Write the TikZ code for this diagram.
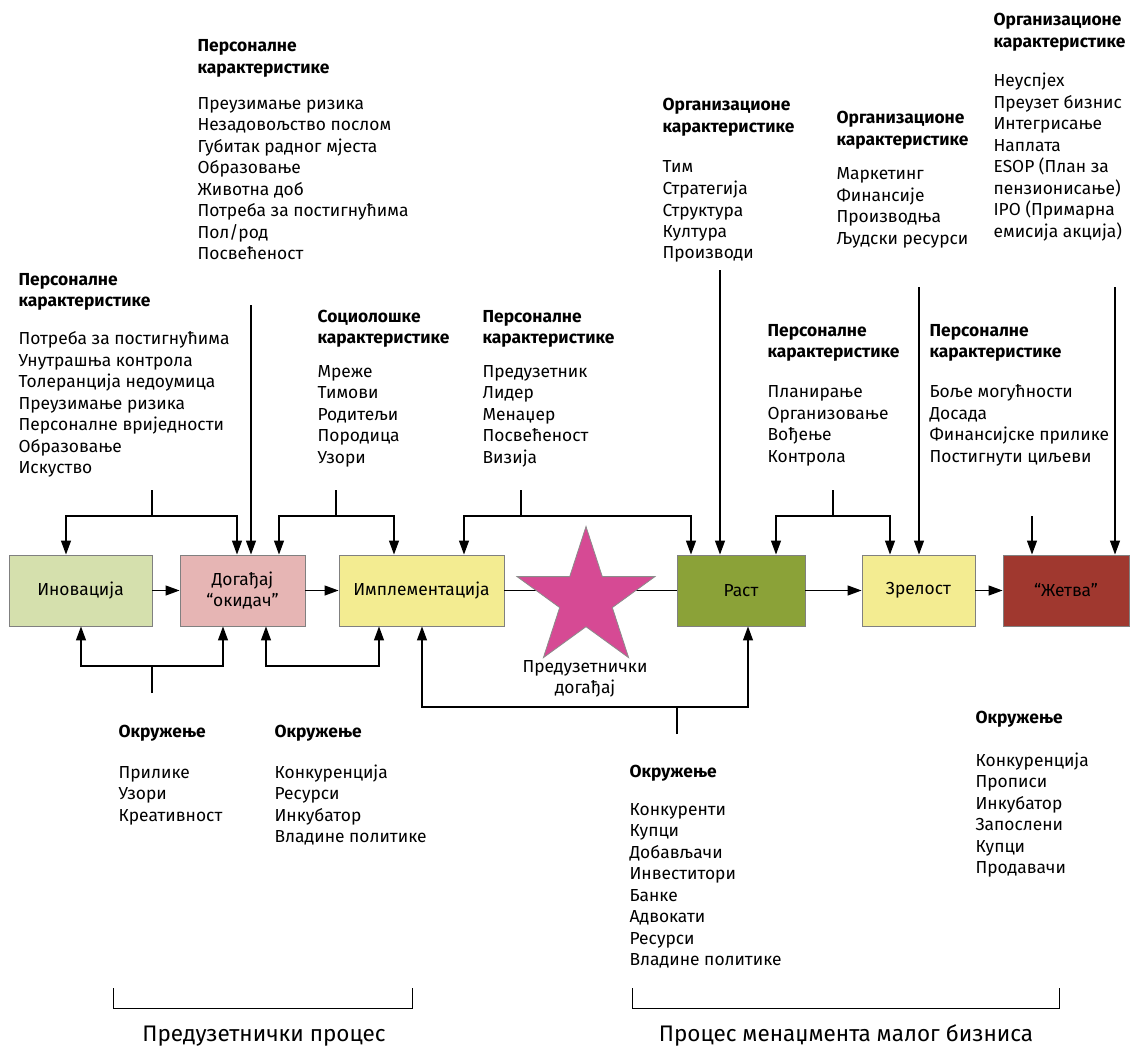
\documentclass[tikz,border=0pt]{standalone}
\usepackage{fontspec}
\setmainfont{Fira Sans}
\usetikzlibrary{arrows.meta,shapes.geometric}
\definecolor{cInov}{RGB}{213,224,173}
\definecolor{cDog}{RGB}{230,181,180}
\definecolor{cYel}{RGB}{243,236,145}
\definecolor{cRast}{RGB}{139,162,56}
\definecolor{cZet}{RGB}{160,56,47}
\definecolor{cStar}{RGB}{214,74,148}
\newcommand\bodyfs{\fontsize{17.4}{21.5}\selectfont}
\newcommand\titlefs{\fontsize{22.5}{26}\selectfont}
\newcommand\blk[1]{\begin{tabular}[t]{@{}l@{}}#1\end{tabular}}
\begin{document}
\begin{tikzpicture}[x=1pt,y=-1pt,line width=1.2pt,font=\bodyfs,
  box/.style={draw=black!50,line width=0.9pt,minimum height=71pt,inner sep=0pt,align=center},
  arr/.style={-{Triangle[length=14pt,width=10pt]}},
  both/.style={{Triangle[length=14pt,width=10pt]}-{Triangle[length=14pt,width=10pt]}},
  txt/.style={anchor=base west,inner sep=0pt},
  ttl/.style={anchor=base,inner sep=0pt,font=\titlefs}]
\useasboundingbox (0,0) rectangle (1132,1046);

% boxes
\node[box,fill=cInov,minimum width=143pt] (inov) at (80.5,590.5) {Иновација};
\node[box,fill=cDog,minimum width=125pt] (dog) at (242.5,590.5) {Догађај\\“окидач”};
\node[box,fill=cYel,minimum width=165pt] (impl) at (421.5,590.5) {Имплементација};
\node[box,fill=cRast,minimum width=128pt] (rast) at (741,590.5) {Раст};
\node[box,fill=cYel,minimum width=113pt] (zrel) at (918.5,590.5) {Зрелост};
\node[box,fill=cZet,minimum width=126pt] (zet) at (1066,590.5) {“Жетва”};

% main flow
\draw[arr] (inov) -- (dog);
\draw[arr] (dog) -- (impl);
\draw (impl) -- (rast);
\draw[arr] (rast) -- (zrel);
\draw[arr] (zrel) -- (zet);

\node[star,star points=5,star point ratio=2.618,minimum size=145pt,inner sep=0pt,
  fill=cStar,draw=black!45,line width=0.8pt] (star) at (586,599) {};
\node[anchor=base,inner sep=0pt] (starlbl) at (585,672)
  {\begin{tabular}[t]{@{}c@{}}Предузетнички\\догађај\end{tabular}};

% top connectors
\coordinate (s1) at (152,490); \coordinate (j1) at (152,516);
\draw (s1) -- (j1);
\draw[both] ([xshift=-14.5pt]inov.north) |- (j1) -| ([xshift=-5.5pt]dog.north);
\coordinate (s2) at (251,305);
\draw[arr] (s2) -- ([xshift=8.5pt]dog.north);
\coordinate (s3) at (336,490); \coordinate (j3) at (336,516);
\draw (s3) -- (j3);
\draw[both] ([xshift=36.5pt]dog.north) |- (j3) -| ([xshift=-27.5pt]impl.north);
\coordinate (s4) at (521,490); \coordinate (j4) at (521,516);
\draw (s4) -- (j4);
\draw[both] ([xshift=42.5pt]impl.north) |- (j4) -| ([xshift=-50pt]rast.north);
\coordinate (s5) at (720,270);
\draw[arr] (s5) -- ([xshift=-21pt]rast.north);
\coordinate (s6) at (833,490); \coordinate (j6) at (833,516);
\draw (s6) -- (j6);
\draw[both] ([xshift=35pt]rast.north) |- (j6) -| ([xshift=-28.5pt]zrel.north);
\coordinate (s7) at (919,287);
\draw[arr] (s7) -- ([xshift=0.5pt]zrel.north);
\coordinate (s8) at (1032,516);
\draw[arr] (s8) -- ([xshift=-34pt]zet.north);
\coordinate (s9) at (1115,287);
\draw[arr] (s9) -- ([xshift=49pt]zet.north);

% bottom connectors
\coordinate (b1) at (152,693); \coordinate (k1) at (152,666);
\draw (b1) -- (k1);
\draw[both] ([xshift=0.5pt]inov.south) |- (k1) -| ([xshift=-19.5pt]dog.south);
\coordinate (k2) at (379,666);
\draw[both] ([xshift=23.5pt]dog.south) |- (k2) -- ([xshift=-42.5pt]impl.south);
\coordinate (b3) at (677,734); \coordinate (k3) at (677,707);
\draw (b3) -- (k3);
\draw[both] ([xshift=0.5pt]impl.south) |- (k3) -| ([xshift=7pt]rast.south);

% text blocks
\node[txt] (tA) at (18,285) {\blk{\textbf{Персоналне}\\\textbf{карактеристике}\\[16.5pt]
 Потреба за постигнућима\\Унутрашња контрола\\Толеранција недоумица\\Преузимање ризика\\Персоналне вриједности\\Образовање\\Искуство}};
\node[txt] (tB) at (197,52) {\blk{\textbf{Персоналне}\\\textbf{карактеристике}\\[14.5pt]
 Преузимање ризика\\Незадовољство послом\\Губитак радног мјеста\\Образовање\\Животна доб\\Потреба за постигнућима\\Пол/род\\Посвећеност}};
\node[txt] (tC) at (317,322) {\blk{\textbf{Социолошке}\\\textbf{карактеристике}\\[12pt]
 Мреже\\Тимови\\Родитељи\\Породица\\Узори}};
\node[txt] (tD) at (482,322) {\blk{\textbf{Персоналне}\\\textbf{карактеристике}\\[12pt]
 Предузетник\\Лидер\\Менаџер\\Посвећеност\\Визија}};
\node[txt] (tE) at (662,111) {\blk{\textbf{Организационе}\\\textbf{карактеристике}\\[19pt]
 Тим\\Стратегија\\Структура\\Култура\\Производи}};
\node[txt] (tF) at (836,124) {\blk{\textbf{Организационе}\\\textbf{карактеристике}\\[13pt]
 Маркетинг\\Финансије\\Производња\\Људски ресурси}};
\node[txt] (tG) at (993,26) {\blk{\textbf{Организационе}\\\textbf{карактеристике}\\[18pt]
 Неуспјех\\Преузет бизнис\\Интегрисање\\Наплата\\ESOP (План за\\пензионисање)\\IPO (Примарна\\емисија акција)}};
\node[txt] (tH) at (767,336) {\blk{\textbf{Персоналне}\\\textbf{карактеристике}\\[18.5pt]
 Планирање\\Организовање\\Вођење\\Контрола}};
\node[txt] (tI) at (929,336) {\blk{\textbf{Персоналне}\\\textbf{карактеристике}\\[18.5pt]
 Боље могућности\\Досада\\Финансијске прилике\\Постигнути циљеви}};
\node[txt] (tJ) at (118,737) {\blk{\textbf{Окружење}\\[19.5pt]
 Прилике\\Узори\\Креативност}};
\node[txt] (tK) at (274,737) {\blk{\textbf{Окружење}\\[19.5pt]
 Конкуренција\\Ресурси\\Инкубатор\\Владине политике}};
\node[txt] (tL) at (629,777) {\blk{\textbf{Окружење}\\[16.5pt]
 Конкуренти\\Купци\\Добављачи\\Инвеститори\\Банке\\Адвокати\\Ресурси\\Владине политике}};
\node[txt] (tM) at (975,723) {\blk{\textbf{Окружење}\\[21.5pt]
 Конкуренција\\Прописи\\Инкубатор\\Запослени\\Купци\\Продавачи}};

% bottom brackets
\coordinate (p1) at (113,988); \coordinate (p2) at (113,1008);
\coordinate (p3) at (412,1008); \coordinate (p4) at (412,988);
\draw[line width=1pt] (p1) -- (p2) -- (p3) -- (p4);
\coordinate (q1) at (632,988); \coordinate (q2) at (632,1008);
\coordinate (q3) at (1059,1008); \coordinate (q4) at (1059,988);
\draw[line width=1pt] (q1) -- (q2) -- (q3) -- (q4);
\node[ttl] (ttl1) at (264,1041) {Предузетнички процес};
\node[ttl] (ttl2) at (846,1041) {Процес менаџмента малог бизниса};
\end{tikzpicture}
\end{document}
